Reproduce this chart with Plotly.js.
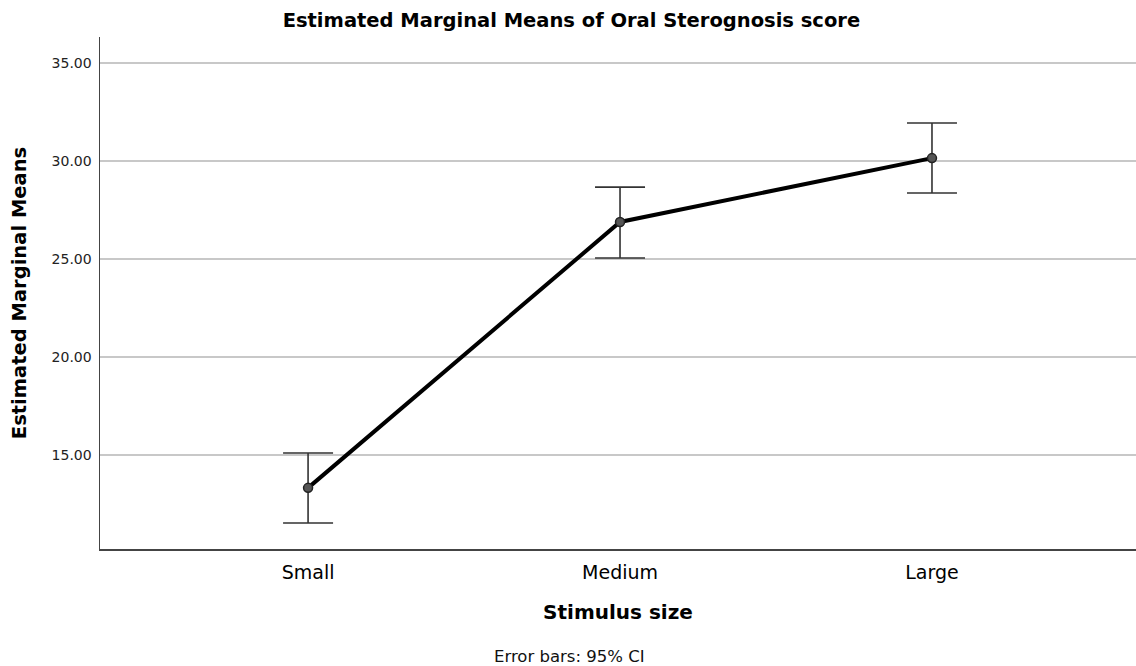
<!DOCTYPE html>
<html>
<head>
<meta charset="utf-8">
<script src="https://cdn.plot.ly/plotly-3.0.1.min.js"></script>
<style>html,body{margin:0;padding:0;background:#fff;}#chart{width:1136px;height:666px;}</style>
</head>
<body>
<div id="chart"></div>
<script>
const categories = ["Small", "Medium", "Large"];
const means = [13.32, 26.89, 30.15];
const ciUpper = [15.10, 28.67, 31.94];
const ciLower = [11.53, 25.05, 28.37];
const yTickVals = [15, 20, 25, 30, 35];

const errPlus = means.map((m, i) => ciUpper[i] - m);
const errMinus = means.map((m, i) => m - ciLower[i]);

const font = "DejaVu Sans, Verdana, sans-serif";

const trace = {
  x: categories,
  y: means,
  type: "scatter",
  mode: "lines+markers",
  line: {color: "#000000", width: 4},
  marker: {size: 9, color: "#555555", line: {color: "#222222", width: 1.5}},
  error_y: {
    type: "data",
    symmetric: false,
    array: errPlus,
    arrayminus: errMinus,
    color: "#333333",
    thickness: 1.6,
    width: 25
  },
  hoverinfo: "skip"
};

const layout = {
  width: 1136,
  height: 666,
  margin: {l: 100, r: 0, t: 37, b: 117},
  paper_bgcolor: "#ffffff",
  plot_bgcolor: "#ffffff",
  showlegend: false,
  font: {family: font, color: "#111111"},
  title: {
    text: "<b>Estimated Marginal Means of Oral Sterognosis score</b>",
    font: {family: font, size: 19.5, color: "#000000"},
    x: 0.503, xanchor: "center",
    y: 0.97, yanchor: "middle"
  },
  xaxis: {
    type: "category",
    range: [-0.667, 2.654],
    showgrid: false,
    zeroline: false,
    showline: true,
    linecolor: "#444444",
    linewidth: 1.5,
    ticks: "",
    ticklabelstandoff: 6,
    tickfont: {family: font, size: 19, color: "#000000"},
    title: {
      text: "<b>Stimulus size</b>",
      font: {family: font, size: 20, color: "#000000"},
      standoff: 22
    }
  },
  yaxis: {
    range: [10.2, 36.33],
    tickvals: yTickVals,
    tickformat: ".2f",
    showgrid: true,
    gridcolor: "#c8c8c8",
    gridwidth: 1.2,
    zeroline: false,
    showline: true,
    linecolor: "#444444",
    linewidth: 1.5,
    ticks: "",
    ticklen: 0,
    ticklabelstandoff: 4,
    tickfont: {family: font, size: 14, color: "#222222"},
    title: {
      text: "<b>Estimated Marginal Means</b>",
      font: {family: font, size: 19.5, color: "#000000"},
      standoff: 20
    }
  },
  annotations: [{
    text: "Error bars: 95% CI",
    xref: "paper", yref: "paper",
    x: 0.453, y: -0.21,
    xanchor: "center", yanchor: "middle",
    showarrow: false,
    font: {family: font, size: 16.5, color: "#111111"}
  }]
};

Plotly.newPlot("chart", [trace], layout, {displayModeBar: false, staticPlot: true});
</script>
</body>
</html>
